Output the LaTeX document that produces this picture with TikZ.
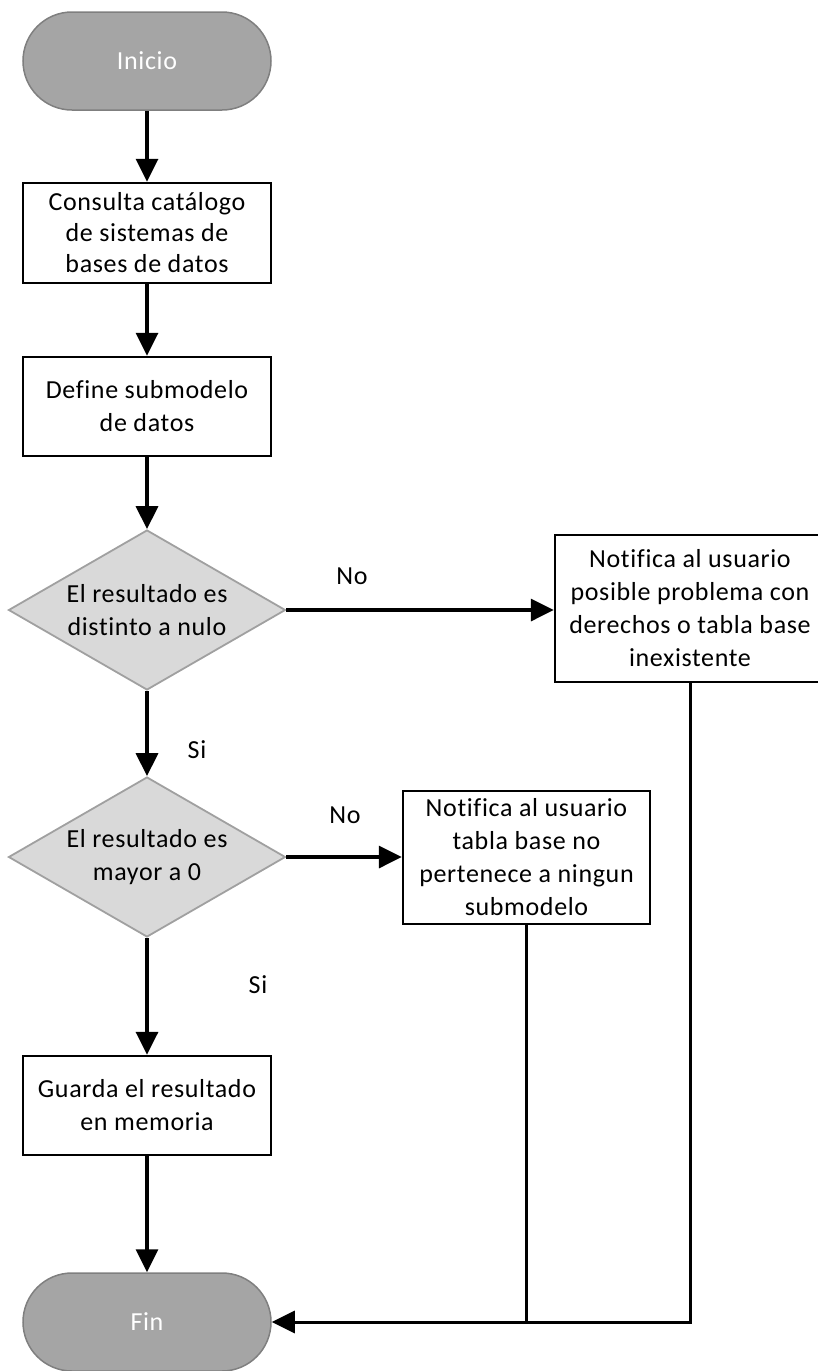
\documentclass[tikz,border=0pt]{standalone}
\usepackage{fontspec}
\setmainfont{Carlito}[LetterSpace=2.5, Ligatures=NoCommon]
\usetikzlibrary{arrows.meta,shapes.geometric}
\definecolor{termfill}{HTML}{A5A5A5}
\definecolor{termline}{HTML}{7F7F7F}
\definecolor{decfill}{HTML}{D9D9D9}
\definecolor{decline}{HTML}{A0A0A0}
\begin{document}
\begin{tikzpicture}[x=1pt,y=-1pt,
  every node/.style={font=\fontsize{26}{33}\selectfont, align=center, inner sep=0pt},
  terminal/.style={rectangle, rounded corners=49pt, minimum width=248pt,
    minimum height=98pt, fill=termfill, draw=termline, line width=1.5pt, text=white},
  process/.style={rectangle, draw=black, line width=2.4pt, fill=white, minimum width=248pt},
  decision/.style={diamond, draw=decline, fill=decfill, line width=1.8pt,
    minimum width=277pt, minimum height=160pt},
  flow/.style={line width=3.4pt, -{Triangle[length=23pt,width=22pt]}},
  link/.style={line width=2.8pt}
]
\useasboundingbox (0,0) rectangle (817,1371);

% main column
\node[terminal] (start) at (147,61) {Inicio};
\node[process, minimum height=100pt, font=\fontsize{26}{31}\selectfont] (b1) at (147,233)
  {Consulta catálogo\\de sistemas de\\bases de datos};
\node[process, minimum height=99pt] (b2) at (147,406.5) {Define submodelo\\de datos};
\node[decision] (d1) at (147,610) {};
\node (d1text) at (d1) {El resultado es\\distinto a nulo};
\node[decision] (d2) at (147,857) {};
\node (d2text) at (d2) {El resultado es\\mayor a 0};
\node[process, minimum height=99pt] (b4) at (147,1105.5) {Guarda el resultado\\en memoria};
\node[terminal] (fin) at (147,1322) {Fin};

% side notifications
\node[process, minimum width=270pt, minimum height=147pt] (n1) at (690,608.5)
  {Notifica al usuario\\posible problema con\\derechos o tabla base\\inexistente};
\node[process, minimum width=247pt, minimum height=133pt] (n2) at (526.5,857.5)
  {Notifica al usuario\\tabla base no\\pertenece a ningun\\submodelo};

% branch labels
\node (no1) at (352,576) {No};
\node (si1) at (197,750) {Si};
\node (no2) at (345,815) {No};
\node (si2) at (258,985) {Si};

% connectors
\draw[flow] (start) -- (b1);
\draw[flow] (b1) -- (b2);
\draw[flow] (b2) -- (d1);
\draw[flow] (d1.east) -- (d1.east -| n1.west);
\draw[flow] (d1) -- (d2);
\draw[flow] (d2.east) -- (d2.east -| n2.west);
\draw[flow] (d2) -- (b4);
\draw[flow] (b4) -- (fin);
\coordinate (j2) at (n2.south |- fin.east);
\draw[link] (n2.south) -- (j2);
\draw[flow, line width=3pt] (n1.south) |- (fin.east);
\end{tikzpicture}
\end{document}
